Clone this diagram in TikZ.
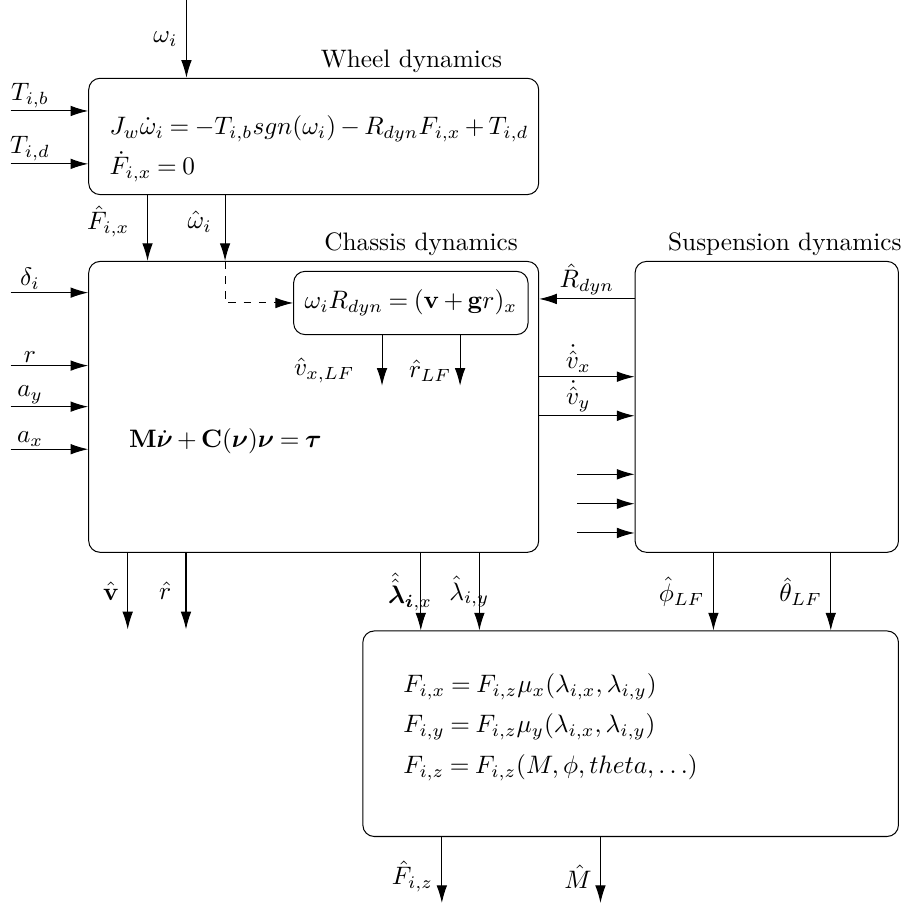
\documentclass[tikz,border=0pt]{standalone}
\usepackage{amsmath}
\usetikzlibrary{arrows.meta, calc, positioning}
\newcommand{\tightmu}{\thickmuskip=4mu\relax\medmuskip=3mu\relax}
\tikzset{
    blk/.style={draw, rounded corners=4.5pt, inner sep=0pt},
    sigEdge/.style={-{Latex[length=7pt, width=4.2pt]}, thin},
    sigDash/.style={sigEdge, dashed},
    blkTitle/.style={inner sep=2pt},
    tightMath/.style={font=\tightmu},
}
\newcommand{\drawIn}[3]{
    \draw[sigEdge] (#1) -- node[pos=0.25, above, inner sep=1pt] {#3} (#2);
}
\newcommand{\drawDown}[4][]{
    \draw[sigEdge] (#2) -- node[left, #1] {#4} (#3);
}

\begin{document}
\begin{tikzpicture}[x=1.058cm, y=1.058cm]
        \useasboundingbox (0,0) rectangle (11.86,11.88);

        % blocks
        \node[blk, minimum width=6.263cm, minimum height=1.619cm] (wheel) at (4.127,10.085) {};
        \node[blk, minimum width=6.263cm, minimum height=4.049cm] (chassis) at (4.127,6.527) {};
        \node[blk, minimum width=3.666cm, minimum height=4.049cm] (susp) at (10.088,6.527) {};
        \node[blk, minimum width=7.455cm, minimum height=2.861cm] (tire) at (8.297,2.227) {};
        \node[blk, tightMath, minimum width=3.262cm, minimum height=0.88cm] (slip) at (5.405,7.894) {$\omega_i R_{dyn} = (\mathbf{v}+\mathbf{g}r)_x$};

        \node[blkTitle, above left=0pt and 0.44cm of wheel.north east] (wheelT) {Wheel dynamics};
        \node[blkTitle, above left=0pt and 0.22cm of chassis.north east] (chassisT) {Chassis dynamics};
        \node[blkTitle, above right=0pt and 0.39cm of susp.north west] (suspT) {Suspension dynamics};

        \node[tightMath, anchor=west, align=left, inner sep=0pt] (wheelEq) at (1.434,9.92)
            {$J_w\dot{\omega}_i = -T_{i,b}sgn(\omega_i) - R_{dyn}F_{i,x} + T_{i,d}$\\[2.7pt]
             $\dot{F}_{i,x} = 0$};
        \node[tightMath, anchor=west, inner sep=0pt] (chassisEq) at (1.692,6.07)
            {$\mathbf{M}\dot{\boldsymbol{\nu}} + \mathbf{C}(\boldsymbol{\nu})\boldsymbol{\nu} = \boldsymbol{\tau}$};
        \node[tightMath, anchor=west, align=left, inner sep=0pt] (tireEq) at (5.3,2.316)
            {$F_{i,x} = F_{i,z}\mu_x(\lambda_{i,x}, \lambda_{i,y})$\\[4pt]
             $F_{i,y} = F_{i,z}\mu_y(\lambda_{i,x}, \lambda_{i,y})$\\[4pt]
             $F_{i,z} = F_{i,z}(M, \phi, theta, \ldots)$};

        % free ends and columns
        \coordinate (omegaIn) at (2.453,11.88);
        \coordinate (TbIn) at (0.14,10.42);
        \coordinate (TdIn) at (0.14,9.724);
        \coordinate (deltaIn) at (0.14,8.03);
        \coordinate (rIn) at (0.14,7.07);
        \coordinate (ayIn) at (0.14,6.53);
        \coordinate (axIn) at (0.14,5.97);
        \coordinate (Fx) at (1.941,0);
        \coordinate (wh) at (2.961,0);
        \coordinate (vxLF) at (5.026,6.805);
        \coordinate (rLF) at (6.053,6.805);
        \coordinate (Rdyn) at (0,7.947);
        \coordinate (vxDot) at (0,6.924);
        \coordinate (vyDot) at (0,6.41);
        \coordinate (s1) at (7.588,5.64);
        \coordinate (s2) at (7.588,5.253);
        \coordinate (s3) at (7.588,4.868);
        \coordinate (vOut) at (1.68,3.60);
        \coordinate (rOut) at (2.447,3.60);
        \coordinate (lamx) at (5.536,0);
        \coordinate (lamy) at (6.307,0);
        \coordinate (phi) at (9.386,0);
        \coordinate (theta) at (10.93,0);
        \coordinate (FzOut) at (5.813,0);
        \coordinate (MOut) at (7.9,0);

        % wheel
        \drawDown{omegaIn}{omegaIn |- wheel.north}{$\omega_i$}
        \drawIn{TbIn}{TbIn -| wheel.west}{$T_{i,b}$}
        \drawIn{TdIn}{TdIn -| wheel.west}{$T_{i,d}$}
        \drawDown[pos=0.4, xshift=-0.13cm]{Fx |- wheel.south}{Fx |- chassis.north}{$\hat{F}_{i,x}$}
        \drawDown[pos=0.4, xshift=-0.06cm]{wh |- wheel.south}{wh |- chassis.north}{$\hat{\omega}_i$}
        \draw[sigDash] (wh |- chassis.north) |- (slip.west);

        % chassis
        \drawIn{deltaIn}{deltaIn -| chassis.west}{$\delta_i$}
        \drawIn{rIn}{rIn -| chassis.west}{$r$}
        \drawIn{ayIn}{ayIn -| chassis.west}{$a_y$}
        \drawIn{axIn}{axIn -| chassis.west}{$a_x$}
        \drawDown[pos=0.7, xshift=-0.26cm]{vxLF |- slip.south}{vxLF}{$\hat{v}_{x,LF}$}
        \drawDown[pos=0.7]{rLF |- slip.south}{rLF}{$\hat{r}_{LF}$}
        \drawDown{vOut |- chassis.south}{vOut}{$\hat{\mathbf{v}}$}
        \drawDown[xshift=-0.08cm]{rOut |- chassis.south}{rOut}{$\hat{r}$}

        % suspension
        \draw[sigEdge] (susp.west |- Rdyn) -- node[above, inner sep=1.5pt] {$\hat{R}_{dyn}$} (chassis.east |- Rdyn);
        \draw[sigEdge] (chassis.east |- vxDot) -- node[pos=0.41, above, inner sep=1.5pt] {$\dot{\hat{v}}_x$} (susp.west |- vxDot);
        \draw[sigEdge] (chassis.east |- vyDot) -- node[pos=0.41, above, inner sep=1.5pt] {$\dot{\hat{v}}_y$} (susp.west |- vyDot);
        \draw[sigEdge] (s1) -- (s1 -| susp.west);
        \draw[sigEdge] (s2) -- (s2 -| susp.west);
        \draw[sigEdge] (s3) -- (s3 -| susp.west);

        % tire
        \draw[sigEdge] (lamx |- chassis.south) -- node[xshift=-0.15cm] {$\hat{\hat{\boldsymbol{\lambda}}}_{\boldsymbol{i},x}$} (lamx |- tire.north);
        \draw[sigEdge] (lamy |- chassis.south) -- node[xshift=-0.14cm] {$\hat{\lambda}_{i,y}$} (lamy |- tire.north);
        \drawDown{phi |- susp.south}{phi |- tire.north}{$\hat{\phi}_{LF}$}
        \drawDown{theta |- susp.south}{theta |- tire.north}{$\hat{\theta}_{LF}$}
        \drawDown[pos=0.6]{FzOut |- tire.south}{FzOut}{$\hat{F}_{i,z}$}
        \drawDown[pos=0.6]{MOut |- tire.south}{MOut}{$\hat{M}$}

    \end{tikzpicture}
\end{document}
